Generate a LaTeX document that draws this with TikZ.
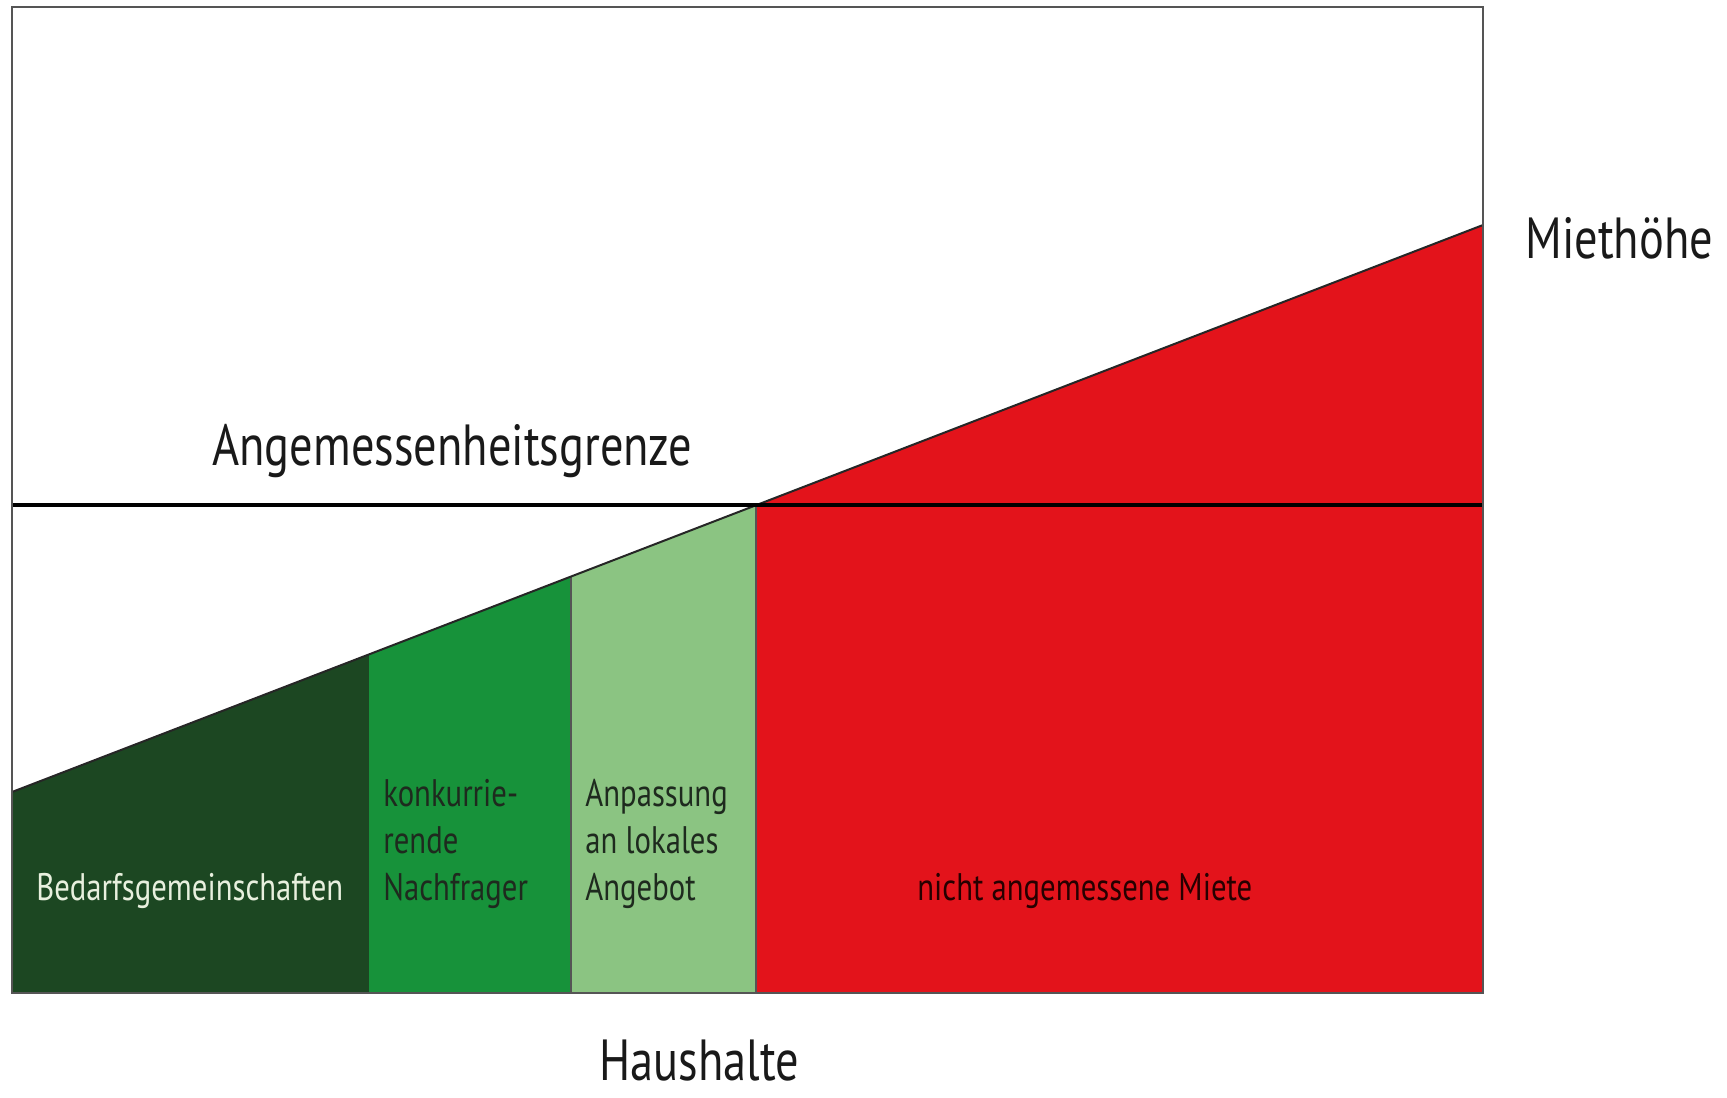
\documentclass[tikz,border=0pt]{standalone}
\usepackage{fontspec}
\setmainfont{PT Sans}[FakeStretch=0.8]
\definecolor{dgreen}{HTML}{1C4722}
\definecolor{mgreen}{HTML}{17923A}
\definecolor{lgreen}{HTML}{8BC482}
\definecolor{rred}{HTML}{E3131B}
\definecolor{frameg}{HTML}{555555}
\definecolor{lbltxt}{HTML}{1E2A1E}
\definecolor{cream}{HTML}{E8F0DE}
\tikzset{
  divline/.style={draw=frameg, line width=0.9pt},
  diagline/.style={draw=black!85, line width=1pt},
  limitline/.style={draw=black, line width=2pt},
  framebox/.style={draw=frameg, line width=1pt},
  axislabel/.style={inner sep=0pt, anchor=base west, text=black!90, font=\fontsize{29}{31}\selectfont},
  arealabel/.style={inner sep=0pt, anchor=base west, text=lbltxt, align=left, font=\fontsize{19.2}{23.3}\selectfont},
}
\begin{document}
\begin{tikzpicture}[x=0.5pt,y=-0.5pt]
\useasboundingbox (0,0) rectangle (1727,1097);
% key points
\coordinate (tl) at (12,7);
\coordinate (br) at (1483,993);
\coordinate (d0) at (12,792);
\coordinate (d1) at (369,654.4);
\coordinate (d2) at (571,576.5);
\coordinate (d3) at (756,505);
\coordinate (d4) at (1483,225);
\coordinate (b0) at (12,993);
\coordinate (b1) at (369,993);
\coordinate (b2) at (571,993);
\coordinate (b3) at (756,993);
\coordinate (hl) at (12,505);
\coordinate (hr) at (1483,505);
% regions
\fill[dgreen] (d0) -- (d1) -- (b1) -- (b0) -- cycle;
\fill[mgreen] (d1) -- (d2) -- (b2) -- (b1) -- cycle;
\fill[lgreen] (d2) -- (d3) -- (b3) -- (b2) -- cycle;
\fill[rred] (d3) -- (d4) -- (br) -- (b3) -- cycle;
% lines
\draw[divline] (d2) -- (b2);
\draw[divline] (d3) -- (b3);
\draw[diagline] (d0) -- (d4);
\draw[limitline] (hl) -- (hr);
\draw[framebox] (tl) rectangle (br);
% labels
\node[axislabel] (mh) at (1525,258) {Miethöhe};
\node[axislabel] (ag) at (212,465) {Angemessenheitsgrenze};
\node[axislabel, text depth=0pt] (hh) at (599,1080) {Haushalte};
\node[arealabel, text=cream] (bg) at (36,900) {Bedarfsgemeinschaften};
\node[arealabel] (kn) at (383,900) {konkurrie-\\rende\\Nachfrager};
\node[arealabel] (an) at (585,900) {Anpassung\\an lokales\\Angebot};
\node[arealabel, text=black!85!red] (nm) at (917,900) {nicht angemessene Miete};
\end{tikzpicture}
\end{document}
